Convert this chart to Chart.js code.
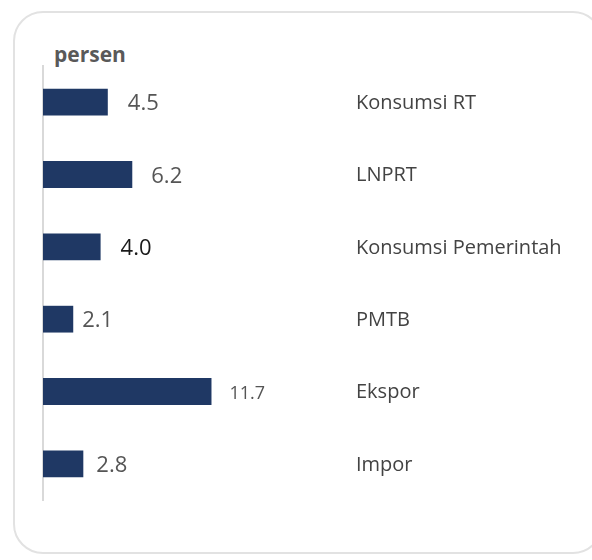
<!DOCTYPE html>
<html>
<head>
<meta charset="utf-8">
<script src="https://cdn.jsdelivr.net/npm/chart.js@4.4.1/dist/chart.umd.min.js"></script>
<style>
  html, body { margin: 0; padding: 0; background: #fff; }
  body { width: 592px; height: 560px; position: relative; overflow: hidden; font-family: "Open Sans", sans-serif; }
  #frame {
    position: absolute; left: 13px; top: 11px; width: 590px; height: 543px;
    border: 2px solid #e2e2e2; border-radius: 30px; box-sizing: border-box;
  }
  #unit {
    position: absolute; left: 54px; top: 40px; font-size: 21px; font-weight: bold; color: #595959;
  }
  #wrap { position: absolute; left: 0; top: 0; width: 592px; height: 560px; }
</style>
</head>
<body>
<div id="frame"></div>
<div id="unit">persen</div>
<div id="wrap"><canvas id="grafik"></canvas></div>
<script>
// Data komponen pengeluaran (persen)
const kategori = ['Konsumsi RT', 'LNPRT', 'Konsumsi Pemerintah', 'PMTB', 'Ekspor', 'Impor'];
const nilai = [4.5, 6.2, 4.0, 2.1, 11.7, 2.8];
const labelNilai = ['4.5', '6.2', '4.0', '2.1', '11.7', '2.8'];

// gaya label angka (jarak dari ujung batang, ukuran, warna)
const jarakLabel = [20, 19, 20, 9, 18, 13];
const ukuranLabel = [22, 22, 22, 22, 18, 22];
const warnaLabel = ['#555555', '#555555', '#1a1a1a', '#555555', '#555555', '#555555'];

const labelPlugin = {
    id: 'labelPlugin',
    afterDatasetsDraw(chart) {
        const ctx = chart.ctx;
        const meta = chart.getDatasetMeta(0);
        const yScale = chart.scales.y;
        ctx.save();
        ctx.textBaseline = 'middle';
        ctx.textAlign = 'left';
        meta.data.forEach((bar, i) => {
            ctx.font = ukuranLabel[i] + 'px "Open Sans"';
            ctx.fillStyle = warnaLabel[i];
            ctx.fillText(labelNilai[i], bar.x + jarakLabel[i], bar.y + 2);
        });
        // nama kategori di sebelah kanan
        ctx.font = '20px "Open Sans"';
        ctx.fillStyle = '#434343';
        kategori.forEach((k, i) => {
            ctx.fillText(k, chart.chartArea.right + 25, yScale.getPixelForValue(i) + 1);
        });
        ctx.restore();
    }
};

const ctx = document.getElementById('grafik').getContext('2d');
new Chart(ctx, {
    type: 'bar',
    data: {
        labels: kategori,
        datasets: [{
            data: nilai,
            backgroundColor: '#1f3864',
            barPercentage: 0.37,
            categoryPercentage: 1
        }]
    },
    options: {
        indexAxis: 'y',
        responsive: true,
        maintainAspectRatio: false,
        animation: false,
        layout: { padding: { left: 43, top: 66, bottom: 60, right: 261 } },
        plugins: { legend: { display: false }, tooltip: { enabled: false } },
        scales: {
            x: { display: false, min: 0, max: 20 },
            y: {
                grid: { display: false, drawTicks: false },
                ticks: { display: false },
                border: { display: true, color: '#d9d9d9', width: 2 }
            }
        }
    },
    plugins: [labelPlugin]
});
</script>
</body>
</html>
